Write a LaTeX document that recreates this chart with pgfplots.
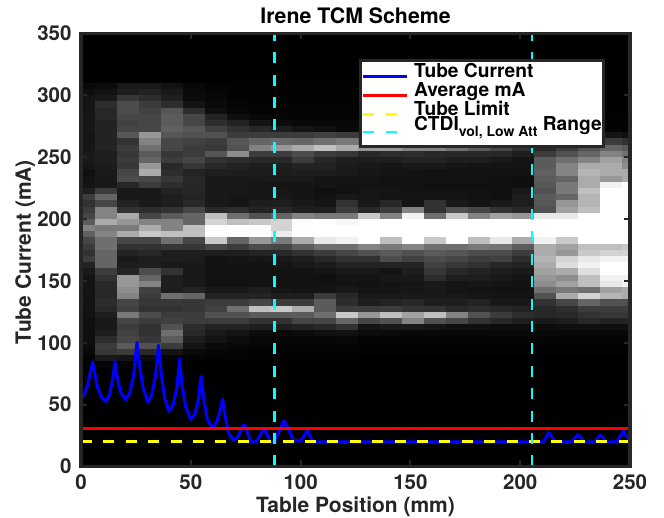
\documentclass[border=0pt]{standalone}
\usepackage{fontspec}
\setmainfont{TeX Gyre Heros}
\usepackage{pgfplots}
\usepackage{pgfplotstable}
\pgfplotsset{compat=1.18}
\definecolor{axgray}{RGB}{38,38,38}
\definecolor{ccyan}{RGB}{0,255,255}
\definecolor{cyel}{RGB}{255,255,0}
\pgfdeclareplotmark{cell}{\pgfpathrectangle{\pgfpoint{-11.2pt}{-3.25pt}}{\pgfpoint{22.4pt}{6.5pt}}\pgfusepathqfill}
\pgfdeclareplotmark{cellL}{\pgfpathrectangle{\pgfpoint{-7.2pt}{-3.25pt}}{\pgfpoint{14.4pt}{6.5pt}}\pgfusepathqfill}
\pgfdeclareplotmark{cellR}{\pgfpathrectangle{\pgfpoint{-4.1pt}{-3.25pt}}{\pgfpoint{8.2pt}{6.5pt}}\pgfusepathqfill}
\pgfplotstableread{
y c0 c1 c2 c3 c4 c5 c6 c7 c8 c9 c10 c11 c12 c13 c14 c15 c16 c17 c18 c19 c20 c21 c22 c23 c24 c25
307.5 8 12 25 25 18 8 3 2 2 2 2 2 2 0 0 0 0 0 0 0 0 0 0 0 0 0
302.5 15 18 28 35 25 10 6 3 2 2 2 2 2 0 0 0 0 0 0 0 0 0 0 0 0 0
297.5 20 25 55 45 30 12 8 3 3 2 2 2 2 0 0 0 0 0 0 0 0 0 0 0 0 0
292.5 20 45 75 60 45 20 10 5 3 3 3 3 3 0 0 0 0 0 0 0 0 0 0 0 0 0
287.5 20 40 75 65 85 45 15 8 4 4 4 4 4 2 2 2 2 2 2 2 2 0 0 0 0 0
282.5 22 40 70 70 90 70 35 15 8 6 5 5 5 3 3 3 3 3 3 3 3 2 2 2 2 2
277.5 22 35 65 70 90 70 45 35 20 12 8 8 8 5 5 5 5 5 5 5 5 3 3 3 3 3
272.5 22 35 70 70 95 85 65 50 40 30 20 15 10 10 10 10 10 10 10 10 10 8 5 5 3 3
267.5 20 35 85 150 85 80 80 60 60 60 60 65 60 50 50 50 50 50 50 50 50 30 20 20 20 15
262.5 22 35 50 130 70 65 60 85 100 105 100 110 120 100 100 100 90 90 80 70 60 40 40 40 60 50
257.5 22 35 60 110 70 60 55 80 130 150 170 190 170 150 150 130 130 110 90 70 50 40 60 80 100 90
252.5 25 30 55 90 55 60 85 140 60 60 75 60 55 40 45 45 40 40 40 40 30 60 80 100 130 110
247.5 25 30 60 100 60 70 50 45 40 40 60 40 30 30 30 35 35 30 30 25 20 90 110 130 160 130
242.5 22 28 55 150 40 55 40 35 30 30 35 35 28 25 22 25 25 22 20 20 20 90 130 170 170 140
237.5 15 25 70 170 45 35 30 30 28 28 30 30 25 22 20 20 18 18 18 18 18 95 130 180 170 170
232.5 18 25 75 70 55 40 25 25 25 25 25 20 20 20 18 18 18 18 18 16 15 90 100 170 150 170
227.5 20 25 40 60 45 38 25 25 22 20 20 20 18 18 18 18 16 16 16 16 15 85 120 170 240 255
222.5 30 60 25 25 35 38 25 25 22 22 20 15 18 20 20 18 18 18 18 16 25 80 120 190 255 255
217.5 60 100 25 25 30 35 25 22 22 25 20 18 25 22 20 20 20 20 18 16 30 90 100 180 255 255
212.5 50 70 35 25 30 40 25 22 30 30 25 22 50 25 40 20 50 25 20 25 30 85 150 180 255 255
207.5 60 130 50 45 50 70 40 45 35 40 30 30 60 40 60 130 50 80 70 50 40 80 160 190 255 255
202.5 70 130 170 70 90 100 190 110 80 100 130 120 120 200 130 240 110 200 130 160 150 230 230 255 255 255
197.5 90 170 150 130 130 100 210 190 200 210 250 255 245 255 255 255 255 255 255 255 255 255 255 255 255 255
192.5 130 120 120 170 130 190 250 255 250 210 255 255 255 255 255 255 255 255 255 255 255 255 255 255 255 255
187.5 95 130 170 200 190 190 255 255 255 235 255 255 255 255 255 255 255 255 255 255 255 255 255 255 255 255
182.5 70 110 70 70 110 70 200 100 150 120 170 230 240 255 190 255 200 255 190 230 170 240 200 255 255 255
177.5 60 110 50 50 55 55 70 60 75 70 90 110 110 130 120 130 110 110 120 115 90 170 160 190 190 200
172.5 50 100 35 40 30 30 30 30 35 40 50 60 70 80 90 80 90 85 75 75 60 170 150 200 210 210
167.5 60 100 25 30 30 28 18 20 22 25 30 40 50 50 75 65 75 70 60 65 45 180 210 230 240 240
162.5 35 100 30 30 25 25 18 18 18 20 25 28 35 35 35 35 65 55 50 40 35 170 220 240 255 255
157.5 25 60 35 75 50 25 18 18 18 18 18 20 25 25 20 30 55 40 35 30 25 160 170 220 255 255
152.5 20 50 150 100 30 25 18 18 18 18 18 15 20 20 25 25 45 30 30 25 20 150 140 190 240 240
147.5 20 40 150 130 30 25 18 18 20 18 18 18 20 18 20 20 25 20 22 20 18 140 160 190 230 240
142.5 20 40 140 65 30 35 25 25 30 22 20 20 25 20 20 22 25 20 18 18 18 110 120 110 160 170
137.5 20 40 130 60 110 100 35 35 35 30 30 60 40 25 25 25 25 25 22 20 20 80 170 210 180 170
132.5 18 45 70 55 55 55 60 60 70 60 60 90 45 30 35 40 30 30 35 25 25 50 70 100 80 80
127.5 18 40 65 50 50 55 65 110 190 200 170 90 60 60 60 50 50 40 45 40 35 40 45 60 60 60
122.5 18 30 120 75 60 60 80 80 90 90 90 110 200 150 190 160 190 130 80 60 45 40 40 50 55 55
117.5 15 25 70 60 65 60 60 60 50 50 70 70 100 70 80 130 80 70 50 40 30 25 30 40 35 35
112.5 15 25 60 50 80 45 35 35 30 30 35 40 50 20 25 25 20 15 15 12 12 12 15 15 15 15
107.5 15 30 65 50 110 40 25 20 12 10 12 15 18 12 10 8 8 8 8 8 8 8 8 8 8 8
102.5 15 45 70 55 90 30 20 12 8 6 6 6 8 5 5 5 5 5 5 5 5 5 5 5 5 5
97.5 12 60 90 80 60 20 10 8 5 4 4 4 4 3 3 3 3 3 3 3 3 3 3 3 3 3
92.5 8 55 60 40 20 10 5 4 3 3 3 3 3 2 2 2 2 2 2 2 2 2 2 2 2 2
87.5 5 25 20 12 5 4 3 3 2 2 2 2 2 0 0 0 0 0 0 0 0 0 0 0 0 0
82.5 3 5 5 3 0 0 0 0 0 0 0 0 0 0 0 0 0 0 0 0 0 0 0 0 0 0
}\heat
\newcommand\cellcol[3][cell]{\addplot[forget plot, on layer=pre main, scatter, only marks, mark=#1, point meta=explicit,
  scatter/use mapped color={draw=none,fill=mapped color}] table[x expr=#2, y=y, meta=#3]{\heat};}
\newcommand\lab{\fontsize{21}{25}\selectfont\bfseries}
\begin{document}
\begin{tikzpicture}[x=1pt,y=1pt]
\begin{axis}[
  at={(0pt,0pt)}, anchor=south west,
  scale only axis, width=549pt, height=433pt,
  xmin=0, xmax=250, ymin=0, ymax=350,
  xtick={0,50,...,250}, ytick={0,50,...,350},
  tick align=inside, major tick length=6pt,
  tick style={axgray,line width=2pt},
  axis line style={axgray,line width=3.2pt},
  set layers=axis on top, mark layer=like plot,
  axis background/.style={fill=black},
  colormap={bw}{gray(0cm)=(0); gray(1cm)=(1)},
  point meta min=0, point meta max=255,
  tick label style={font=\fontsize{20.5}{24}\selectfont\bfseries, text=axgray},
  /pgf/number format/assume math mode=true,
  xticklabel style={yshift=-5pt},
  yticklabel style={xshift=-6pt},
  xlabel={Table Position (mm)},
  ylabel={Tube Current (mA)},
  title={Irene TCM Scheme},
  xlabel style={font=\lab, text=axgray, at={(axis description cs:0.5,0)}, anchor=base, yshift=-46.5pt},
  ylabel style={font=\lab, text=axgray, at={(axis description cs:0,0.495)}, anchor=base, rotate=0, yshift=50pt},
  title style={font=\fontsize{21.3}{24}\selectfont\bfseries, at={(axis description cs:0.5,1)}, anchor=base, yshift=3.5pt},
  legend cell align=left,
  legend style={at={(axis cs:126.6,329.5)}, anchor=north west, draw=axgray, line width=3pt, fill=white,
    inner sep=1.5pt, row sep=0pt,
    nodes={font=\fontsize{19.2}{24}\selectfont\bfseries, inner sep=0pt, anchor=base west},
    column sep=5.5pt},
  legend image code/.code={\draw[#1,line width=2.6pt] (0pt,0pt) -- (44pt,0pt);},
]
\cellcol[cellL]{3.2}{c0}\cellcol{11.4}{c1}\cellcol{21.4}{c2}\cellcol{31.4}{c3}\cellcol{41.4}{c4}
\cellcol{51.4}{c5}\cellcol{61.4}{c6}\cellcol{71.4}{c7}\cellcol{81.4}{c8}\cellcol{91.4}{c9}
\cellcol{101.4}{c10}\cellcol{111.4}{c11}\cellcol{121.4}{c12}\cellcol{131.4}{c13}\cellcol{141.4}{c14}
\cellcol{151.4}{c15}\cellcol{161.4}{c16}\cellcol{171.4}{c17}\cellcol{181.4}{c18}\cellcol{191.4}{c19}
\cellcol{201.4}{c20}\cellcol{211.4}{c21}\cellcol{221.4}{c22}\cellcol{231.4}{c23}\cellcol{241.4}{c24}\cellcol[cellR]{248.2}{c25}
\addplot[blue,line width=3pt,line join=round] coordinates {
(0,55)(1.5,58)(3,66)(4.3,76)(5.3,84.5)(6.2,76)(7.5,64)(9.3,56)(11.4,52.5)(13,58)(14.4,70)(15.5,85)
(16.5,72)(18,60)(20.4,54)(22.3,60)(24,74)(25.5,100.5)(26.7,82)(28.2,64)(30.5,52)(32.3,58)(34,74)(35.3,98)
(36.5,76)(38,56)(40.1,44.5)(42,50)(43.7,64)(44.9,87)(46,66)(47.7,48)(50,38)(51.8,42)(53.5,54)(54.7,72.8)
(55.8,56)(57.5,38)(60,31)(61.8,36)(63.3,45)(64.5,54.7)(65.7,40)(67.2,27)(69.5,21)(71.5,24)(73,30)(74,33.7)
(75.2,31)(77.2,20)(80,20)(81.5,25)(83.2,31)(84.5,27)(86.2,20)(88,20)(90,28)(92.4,37)(94,32)(96.8,21)(100,20.5)
(101.6,25)(103,29)(104.2,25)(105.5,20)(210.6,20)(213,27.7)(216,20)(223.4,20)(226.4,25.8)(229.3,20)(234,20)
(236.3,25.3)(237.5,24)(239,20)(244,20)(247,28.5)(249.5,21)(250,21)};
\addlegendentry[text height=14.5pt,text depth=4.5pt]{\raisebox{-1pt}{Tube Current}}
\addplot[red,line width=2.8pt] coordinates {(0,30.5)(250,30.5)};
\addlegendentry[text height=14.5pt,text depth=4.5pt]{\raisebox{-1pt}{Average mA}}
\addplot[cyel,line width=2.6pt,dash pattern=on 11pt off 11.4pt] coordinates {(0,20)(250,20)};
\addlegendentry[text height=14.5pt,text depth=4.5pt]{\raisebox{-1pt}{Tube Limit}}
\addplot[ccyan,line width=2.6pt,dash pattern=on 11pt off 11.4pt] coordinates {(88.2,0)(88.2,350)};
\addlegendentry[text height=13pt,text depth=13pt]{\smash{\raisebox{1.5pt}{CTDI\raisebox{-6pt}{\fontsize{14}{14}\selectfont vol, Low Att} Range}}}
\addplot[ccyan,line width=2.6pt,dash pattern=on 11pt off 11.4pt,forget plot] coordinates {(205.4,0)(205.4,350)};
\end{axis}
\pgfresetboundingbox
\path[use as bounding box] (-81,-51.5) rectangle (583,466.5);
\end{tikzpicture}
\end{document}
